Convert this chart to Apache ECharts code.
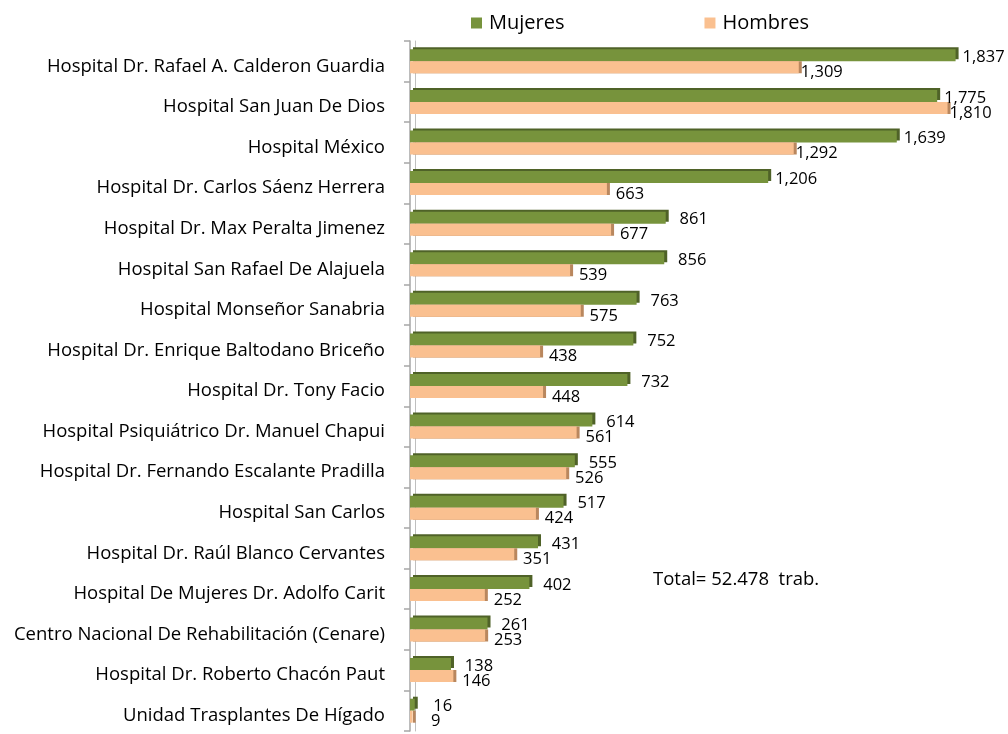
<!DOCTYPE html>
<html>
<head>
<meta charset="utf-8">
<script src="https://cdn.jsdelivr.net/npm/echarts@6/dist/echarts.min.js"></script>
<style>
  html, body { margin: 0; padding: 0; background: #fff; }
  #main { width: 1008px; height: 734px; }
</style>
</head>
<body>
<div id="main"></div>
<script>
// categorias (de arriba hacia abajo)
var hospitales = [
    'Hospital Dr. Rafael A. Calderon Guardia',
    'Hospital San Juan De Dios',
    'Hospital México',
    'Hospital Dr. Carlos Sáenz Herrera',
    'Hospital Dr. Max Peralta Jimenez',
    'Hospital San Rafael De Alajuela',
    'Hospital Monseñor Sanabria',
    'Hospital Dr. Enrique Baltodano Briceño',
    'Hospital Dr. Tony Facio',
    'Hospital Psiquiátrico Dr. Manuel Chapui',
    'Hospital Dr. Fernando Escalante Pradilla',
    'Hospital San Carlos',
    'Hospital Dr. Raúl Blanco Cervantes',
    'Hospital De Mujeres Dr. Adolfo Carit',
    'Centro Nacional De Rehabilitación (Cenare)',
    'Hospital Dr. Roberto Chacón Paut',
    'Unidad Trasplantes De Hígado'
];
var mujeres = [1837, 1775, 1639, 1206, 861, 856, 763, 752, 732, 614, 555, 517, 431, 402, 261, 138, 16];
var hombres = [1309, 1810, 1292, 663, 677, 539, 575, 438, 448, 561, 526, 424, 351, 252, 253, 146, 9];
var totalTexto = 'Total= 52.478  trab.';

var fuente = 'Open Sans';
var fmt = function (p) {
    return p.value.toLocaleString('en-US');
};

var myChart = echarts.init(document.getElementById('main'));
var option = {
    animation: false,
    textStyle: { fontFamily: fuente },
    title: {
        text: totalTexto,
        left: 648,
        top: 565,
        textStyle: { fontFamily: fuente, fontSize: 18.5, fontWeight: 'normal', color: '#000' }
    },
    legend: {
        data: ['Mujeres', 'Hombres'],
        left: 466,
        top: 8,
        itemWidth: 11,
        itemHeight: 11,
        itemGap: 140,
        icon: 'rect',
        textStyle: { fontFamily: fuente, fontSize: 20, color: '#000', padding: [0, 0, 0, 2] }
    },
    grid: {
        left: 410,
        right: 4,
        top: 41,
        height: 690,
        containLabel: false
    },
    xAxis: {
        type: 'value',
        min: 0,
        max: 2000,
        show: false
    },
    yAxis: [
        {
            type: 'category',
            data: hospitales,
            inverse: true,
            offset: 5,
            axisLine: { lineStyle: { color: '#A6A6A6', width: 1.5 } },
            axisTick: { show: true, length: 6, lineStyle: { color: '#A6A6A6', width: 1.5 } },
            axisLabel: {
                color: '#000',
                fontFamily: fuente,
                margin: 20,
                formatter: function (v) { return '{a|' + v + '}'; },
                rich: {
                    a: { fontSize: 18.5, fontFamily: fuente, color: '#000', padding: [10, 0, 0, 0] }
                }
            }
        },
        {
            type: 'category',
            data: hospitales,
            inverse: true,
            position: 'left',
            offset: -5,
            axisLine: { lineStyle: { color: '#BFBFBF', width: 1 } },
            axisTick: { show: false },
            axisLabel: { show: false }
        }
    ],
    series: [
        {
            name: 'Mujeres',
            type: 'bar',
            data: mujeres,
            barWidth: 12,
            barGap: '0%',
            itemStyle: {
                color: '#77933C',
                shadowColor: '#4F6228',
                shadowOffsetX: 3,
                shadowOffsetY: -2,
                shadowBlur: 0
            },
            label: {
                show: true,
                position: 'right',
                distance: 28,
                align: 'center',
                offset: [0, 2],
                color: '#000',
                fontSize: 16.5,
                fontFamily: fuente,
                formatter: fmt
            }
        },
        {
            name: 'Hombres',
            type: 'bar',
            data: hombres,
            barWidth: 12,
            itemStyle: {
                color: '#FAC090',
                shadowColor: '#B9875E',
                shadowOffsetX: 3,
                shadowOffsetY: 0,
                shadowBlur: 0
            },
            label: {
                show: true,
                position: 'right',
                distance: 23,
                align: 'center',
                offset: [0, 5],
                color: '#000',
                fontSize: 16.5,
                fontFamily: fuente,
                formatter: fmt
            }
        }
    ]
};
myChart.setOption(option);
</script>
</body>
</html>
